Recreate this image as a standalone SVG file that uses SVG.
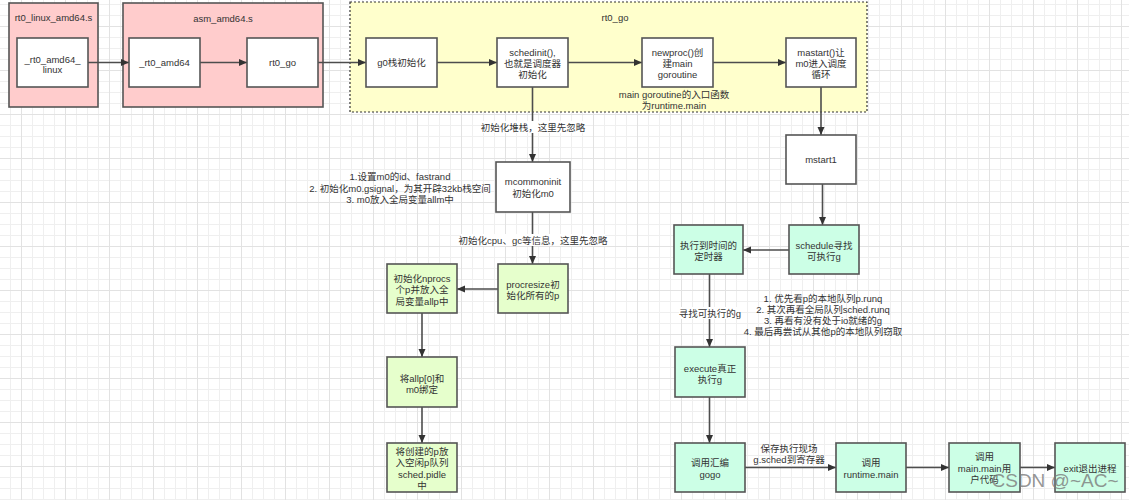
<svg xmlns="http://www.w3.org/2000/svg" width="1129" height="500" viewBox="0 0 1129 500">
<style>
.t{font-family:"Liberation Sans","Noto Sans CJK SC",sans-serif;font-size:9.5px;fill:#333;text-anchor:middle}
.n{stroke:#555;stroke-width:1.6}
.w{fill:#fff}
.g{fill:#e6ffcc}
.m{fill:#ccffe6}
.e{stroke:#4d4d4d;stroke-width:1.6;fill:none;marker-end:url(#arr)}
.lb{fill:#fff}
</style>
<defs>
<pattern id="grid" patternUnits="userSpaceOnUse" x="21" y="26" width="44" height="44">
<path d="M11.5 0V44M22.5 0V44M33.5 0V44M0 11.5H44M0 22.5H44M0 33.5H44" stroke="#efefef" stroke-width="1"/>
<path d="M0.5 0V44M0 0.5H44" stroke="#e2e2e2" stroke-width="1"/>
</pattern>
<marker id="arr" markerUnits="userSpaceOnUse" markerWidth="9" markerHeight="8" refX="8" refY="3.5" orient="auto">
<path d="M0,0 L8,3.5 L0,7 Z" fill="#333"/>
</marker>
</defs>
<rect width="1129" height="500" fill="#fff"/>
<rect width="1129" height="500" fill="url(#grid)"/>

<g id="containers">
<g id="c_rt0_linux">
<rect x="9" y="3" width="89" height="104" fill="#ffcccc" class="n"/>
<text class="t" x="53.5" y="21">rt0_linux_amd64.s</text>
</g>
<g id="c_asm">
<rect x="123" y="3" width="200" height="104" fill="#ffcccc" class="n"/>
<text class="t" x="223" y="22">asm_amd64.s</text>
</g>
<g id="c_rt0_go">
<rect x="350" y="2" width="517" height="110" fill="#ffffcc" stroke="#333" stroke-width="1.2" stroke-dasharray="2 2"/>
<text class="t" x="615" y="20.5">rt0_go</text>
</g>
</g>

<g id="connectors">
<line class="e" x1="88" y1="62.5" x2="129" y2="62.5"/>
<line class="e" x1="200" y1="62.5" x2="247" y2="62.5"/>
<line class="e" x1="318" y1="62.5" x2="366" y2="62.5"/>
<line class="e" x1="437" y1="62.5" x2="497" y2="62.5"/>
<line class="e" x1="568" y1="62.5" x2="642" y2="62.5"/>
<line class="e" x1="713" y1="62.5" x2="786" y2="62.5"/>
<line class="e" x1="821" y1="87" x2="821" y2="135"/>
<line class="e" x1="822.5" y1="184" x2="822.5" y2="225"/>
<line class="e" x1="789" y1="250" x2="743" y2="250"/>
<line class="e" x1="709.5" y1="274" x2="709.5" y2="347"/>
<line class="e" x1="709.5" y1="397" x2="709.5" y2="443"/>
<line class="e" x1="745" y1="467.5" x2="836" y2="467.5"/>
<line class="e" x1="906" y1="467.5" x2="949" y2="467.5"/>
<line class="e" x1="1020" y1="467.5" x2="1055" y2="467.5"/>
<line class="e" x1="532.5" y1="87" x2="532.5" y2="162"/>
<line class="e" x1="532.5" y1="212" x2="532.5" y2="264"/>
<line class="e" x1="498" y1="289" x2="457" y2="289"/>
<line class="e" x1="422" y1="313" x2="422" y2="357"/>
<line class="e" x1="422" y1="407" x2="422" y2="443"/>
<g id="edge_labels">
<rect class="lb" x="482" y="121" width="102" height="12"/>
<text class="t" x="533" y="130.5">初始化堆栈，这里先忽略</text>
<rect class="lb" x="461" y="234" width="144" height="12"/>
<text class="t" x="533" y="243.5">初始化cpu、gc等信息，这里先忽略</text>
<rect class="lb" x="679" y="307" width="62" height="12"/>
<text class="t" x="710" y="316.5">寻找可执行的g</text>
<text class="t" x="789" y="451.5">保存执行现场</text>
<text class="t" x="789" y="462.5">g.sched到寄存器</text>
</g>
</g>

<g id="n_rt0_linux">
<rect x="17" y="38" width="71" height="49" class="n w"/>
<text class="t" x="52.5" y="62.5">_rt0_amd64_</text>
<text class="t" x="52.5" y="72.5">linux</text>
</g>
<g id="n_rt0_amd64">
<rect x="129" y="38" width="71" height="49" class="n w"/>
<text class="t" x="164.5" y="66">_rt0_amd64</text>
</g>
<g id="n_rt0_go">
<rect x="247" y="38" width="71" height="49" class="n w"/>
<text class="t" x="282.5" y="66">rt0_go</text>
</g>
<g id="n_g0">
<rect x="366" y="38" width="71" height="49" class="n w"/>
<text class="t" x="401.5" y="66">g0栈初始化</text>
</g>
<g id="n_schedinit">
<rect x="497" y="38" width="71" height="49" class="n w"/>
<text class="t" x="532.5" y="55.5">schedinit(),</text>
<text class="t" x="532.5" y="66.5">也就是调度器</text>
<text class="t" x="532.5" y="77.5">初始化</text>
</g>
<g id="n_newproc">
<rect x="642" y="38" width="71" height="49" class="n w"/>
<text class="t" x="677.5" y="55.5">newproc()创</text>
<text class="t" x="677.5" y="67">建main</text>
<text class="t" x="677.5" y="78">goroutine</text>
</g>
<text class="t" x="674" y="97.5">main goroutine的入口函数</text>
<text class="t" x="674" y="108.5">为runtime.main</text>
<g id="n_mastart">
<rect x="786" y="38" width="70" height="49" class="n w"/>
<text class="t" x="821" y="55.5">mastart()让</text>
<text class="t" x="821" y="67">m0进入调度</text>
<text class="t" x="821" y="78">循环</text>
</g>
<g id="n_mstart1">
<rect x="786" y="135" width="70" height="49" class="n w"/>
<text class="t" x="821" y="162.5">mstart1</text>
</g>
<g id="n_mcommoninit">
<rect x="496" y="162" width="74" height="50" class="n w"/>
<text class="t" x="533" y="185">mcommoninit</text>
<text class="t" x="533" y="196.5">初始化m0</text>
</g>
<text class="t" x="400" y="179.5">1.设置m0的id、fastrand</text>
<text class="t" x="400" y="191.5">2. 初始化m0.gsignal，为其开辟32kb栈空间</text>
<text class="t" x="400" y="202.5">3. m0放入全局变量allm中</text>
<g id="n_procresize">
<rect x="498" y="264" width="70" height="49" class="n g"/>
<text class="t" x="533" y="287.5">procresize初</text>
<text class="t" x="533" y="298.5">始化所有的p</text>
</g>
<g id="n_nprocs">
<rect x="387" y="264" width="70" height="49" class="n g"/>
<text class="t" x="422" y="281.5">初始化nprocs</text>
<text class="t" x="422" y="293">个p并放入全</text>
<text class="t" x="422" y="304.5">局变量allp中</text>
</g>
<g id="n_allp">
<rect x="387" y="357" width="70" height="50" class="n g"/>
<text class="t" x="422" y="381.5">将allp[0]和</text>
<text class="t" x="422" y="392.5">m0绑定</text>
</g>
<g id="n_pidle">
<rect x="387" y="443" width="70" height="49" class="n g"/>
<text class="t" x="422" y="455">将创建的p放</text>
<text class="t" x="422" y="466">入空闲p队列</text>
<text class="t" x="422" y="477.5">sched.pidle</text>
<text class="t" x="422" y="488.5">中</text>
</g>
<g id="n_timer">
<rect x="674" y="225" width="69" height="49" class="n m"/>
<text class="t" x="708.5" y="248.5">执行到时间的</text>
<text class="t" x="708.5" y="260">定时器</text>
</g>
<g id="n_schedule">
<rect x="789" y="225" width="70" height="49" class="n m"/>
<text class="t" x="824" y="248.5">schedule寻找</text>
<text class="t" x="824" y="260">可执行g</text>
</g>
<text class="t" x="823" y="301.5">1. 优先看p的本地队列p.runq</text>
<text class="t" x="823" y="312.5">2. 其次再看全局队列sched.runq</text>
<text class="t" x="823" y="323.5">3. 再看有没有处于io就绪的g</text>
<text class="t" x="823" y="334.5">4. 最后再尝试从其他p的本地队列窃取</text>
<g id="n_execute">
<rect x="675" y="347" width="70" height="50" class="n m"/>
<text class="t" x="710" y="371.5">execute真正</text>
<text class="t" x="710" y="382.5">执行g</text>
</g>
<g id="n_gogo">
<rect x="675" y="443" width="70" height="49" class="n m"/>
<text class="t" x="710" y="466">调用汇编</text>
<text class="t" x="710" y="477.5">gogo</text>
</g>
<g id="n_runtime_main">
<rect x="836" y="443" width="70" height="49" class="n m"/>
<text class="t" x="871" y="466">调用</text>
<text class="t" x="871" y="477.5">runtime.main</text>
</g>
<g id="n_main_main">
<rect x="949" y="443" width="71" height="49" class="n m"/>
<text class="t" x="984.5" y="460">调用</text>
<text class="t" x="984.5" y="471.5">main.main用</text>
<text class="t" x="984.5" y="483">户代码</text>
</g>
<g id="n_exit">
<rect x="1055" y="443" width="70" height="49" class="n m"/>
<text class="t" x="1090" y="471.5">exit退出进程</text>
</g>
<text x="1055" y="487" font-family="'Liberation Sans',sans-serif" font-size="19" fill="#7a7a7a" fill-opacity="0.8" text-anchor="middle">CSDN @~AC~</text>
</svg>
